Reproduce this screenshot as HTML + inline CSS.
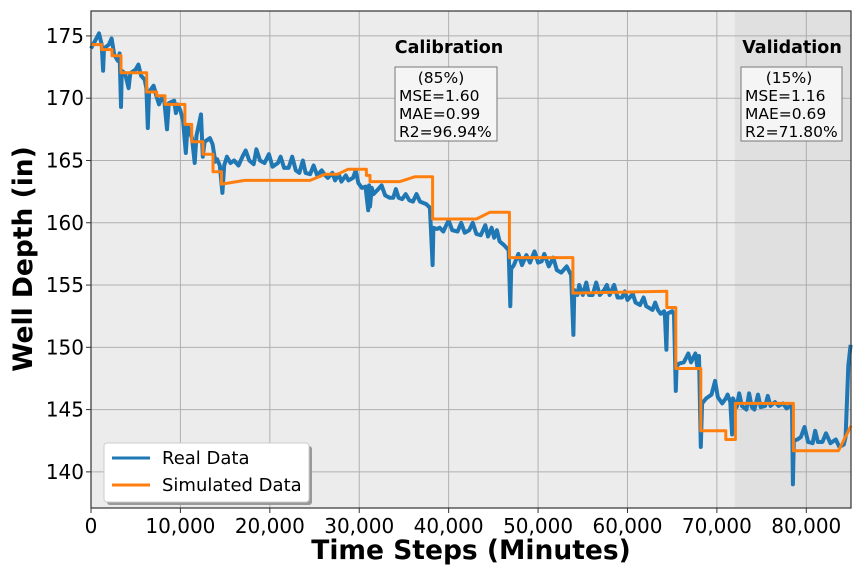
<!DOCTYPE html>
<html><head><meta charset="utf-8"><style>
body{margin:0;background:#fff}
svg{font-family:"DejaVu Sans","Liberation Sans",sans-serif}
</style></head><body>
<svg id="chart" width="864" height="576" viewBox="0 0 864 576" xmlns="http://www.w3.org/2000/svg">
<rect x="91" y="11" width="760" height="497" fill="#ececec"/>
<g id="grid"></g>
<g id="shade"></g>
<g id="series"></g>
<rect x="91" y="11" width="760" height="497" fill="none" stroke="#333" stroke-width="1.2"/>
<g id="ticks"></g>
<text x="471" y="559" text-anchor="middle" font-size="26.5" font-weight="bold">Time Steps (Minutes)</text>
<text transform="translate(32,259) rotate(-90)" text-anchor="middle" font-size="26.5" font-weight="bold">Well Depth (in)</text>
<text x="449" y="53" text-anchor="middle" font-size="17.5" font-weight="bold">Calibration</text>
<g>
<rect x="395" y="67" width="102" height="74" fill="#f5f5f5" stroke="#777" stroke-width="1"/>
<text x="441" y="83" text-anchor="middle" font-size="15.5">(85%)</text>
<text x="399" y="101" font-size="15.5">MSE=1.60</text>
<text x="399" y="119" font-size="15.5">MAE=0.99</text>
<text x="399" y="137" font-size="15.5">R2=96.94%</text>
</g>
<text x="792" y="53" text-anchor="middle" font-size="17.5" font-weight="bold">Validation</text>
<g>
<rect x="741" y="67" width="101" height="74" fill="#f5f5f5" stroke="#777" stroke-width="1"/>
<text x="789" y="83" text-anchor="middle" font-size="15.5">(15%)</text>
<text x="745" y="101" font-size="15.5">MSE=1.16</text>
<text x="745" y="119" font-size="15.5">MAE=0.69</text>
<text x="745" y="137" font-size="15.5">R2=71.80%</text>
</g>
<g>
<rect x="107" y="446" width="205" height="59" rx="3" fill="#999"/>
<rect x="104" y="443" width="205" height="59" rx="3" fill="#fff" stroke="#ccc"/>
<line x1="112" y1="458" x2="150" y2="458" stroke="#1f77b4" stroke-width="3"/>
<text x="162" y="464" font-size="18">Real Data</text>
<line x1="112" y1="485" x2="150" y2="485" stroke="#ff7f0e" stroke-width="3"/>
<text x="162" y="491" font-size="18">Simulated Data</text>
</g>
</svg>
<script>
const xTicks=[0,10000,20000,30000,40000,50000,60000,70000,80000];
const xTickLabels=["0","10,000","20,000","30,000","40,000","50,000","60,000","70,000","80,000"];
const yTicks=[140,145,150,155,160,165,170,175];
const validationStart=72000;
const realT=[0,600,900,1200,1350,1450,2000,2300,2600,3000,3200,3350,3450,3800,4200,4400,5000,5300,5600,6000,6200,6350,6500,7000,7300,7600,7900,8200,8500,8700,9300,9500,9700,10000,10300,10600,10800,11300,11600,11800,12100,12300,12500,12700,13300,13600,13900,14100,14400,14700,14900,15200,15600,16000,16500,17000,17300,17700,18200,18500,18900,19400,19900,20300,20900,21200,21600,22100,22500,22900,23300,23700,24000,24500,24900,25300,25800,26200,26500,27000,27300,27700,28000,28500,28800,29300,29600,29900,30300,30700,31000,31100,31200,31400,31600,32000,32500,32900,33400,33800,34100,34400,34800,35200,35600,36000,36400,36800,37500,37900,38200,38300,38700,39000,39400,40000,40400,41000,41400,41800,42300,42700,43100,43600,44100,44400,44800,45100,45400,45700,46200,46700,46900,47000,47300,47800,48200,48700,49100,49600,50000,50400,50700,51200,51700,52100,52600,53200,53700,53950,54050,54400,54600,55000,55400,55700,56100,56500,56900,57400,57700,58000,58500,58900,59400,59700,60000,60600,60900,61400,61800,62100,62800,63100,63400,63700,64100,64200,64350,64450,65000,65200,65400,65500,65800,66300,66800,67100,67600,67800,68000,68200,68350,68800,69400,69800,70100,70600,71000,71200,71500,71700,71800,72200,72500,72800,73300,73600,73900,74200,74600,74900,75400,75700,76000,76500,76900,77400,77800,78200,78400,78500,78600,79000,79400,79800,80200,80700,81000,81300,81800,82200,82700,83300,83700,84200,84400,84700,84950];
const realV=[174.0,174.8,175.2,174.3,172.2,174.0,174.3,174.8,173.5,173.0,173.6,169.3,172.2,172.0,170.8,172.0,172.3,172.7,171.8,171.5,170.8,167.6,170.5,171.0,170.2,169.5,170.0,169.8,167.5,169.6,169.8,168.8,169.5,169.0,168.2,165.6,167.8,166.8,164.8,167.0,168.0,168.7,165.3,166.5,166.8,166.3,164.9,165.1,164.6,162.4,164.6,165.3,164.8,165.0,164.6,165.4,165.8,165.0,164.7,165.9,165.0,164.8,165.5,164.5,164.8,165.3,164.4,164.4,165.3,164.2,164.0,165.0,164.0,163.9,164.6,163.8,164.2,163.8,163.6,164.0,163.4,163.9,163.3,163.8,163.4,163.6,164.2,163.2,162.8,162.9,161.0,163.0,161.3,162.8,162.3,162.6,163.0,162.2,162.0,162.0,162.7,162.0,161.9,162.3,161.8,161.7,162.3,161.7,161.5,161.2,156.6,159.6,159.5,159.6,159.3,160.2,159.4,159.3,160.0,159.2,159.4,160.0,159.1,159.0,159.8,158.9,159.6,158.8,159.4,158.5,158.2,157.8,153.3,156.3,156.6,157.5,156.6,157.4,156.8,157.7,156.8,156.9,157.5,156.5,157.2,156.2,156.0,156.5,155.8,151.0,154.6,154.2,155.0,154.2,155.2,154.2,154.2,155.2,154.2,154.6,155.0,154.2,155.0,154.0,154.0,154.5,153.8,154.3,153.6,153.4,154.0,153.3,153.0,153.6,153.0,152.7,152.9,152.4,149.8,152.7,152.9,152.6,146.5,148.5,148.7,148.8,149.5,148.8,149.5,148.5,149.3,142.0,145.5,145.9,146.2,147.3,146.0,145.5,145.9,146.2,145.6,143.0,145.9,145.2,146.3,145.3,145.0,146.3,145.2,145.0,146.2,145.2,145.3,146.1,145.3,145.6,145.3,145.5,145.1,145.3,145.2,139.0,142.5,142.6,142.8,143.6,142.4,142.3,143.3,142.4,142.4,143.1,142.3,142.6,142.0,142.2,142.8,148.5,150.2];
const simT=[0,1200,1200,2350,2350,3350,3350,6230,6230,7350,7350,8280,8280,10500,10500,11260,11260,12530,12530,13650,13650,14600,14600,17200,24500,26200,27600,28750,30800,30800,31200,31200,34550,36250,38200,38200,43100,44630,46800,46800,53900,53900,64400,64400,65400,65400,68200,68200,71000,71000,72070,72070,78560,78560,83600,85000];
const simV=[174.3,174.3,173.9,173.9,173.4,173.4,172.05,172.05,170.5,170.5,170.2,170.2,169.5,169.5,167.9,167.9,166.5,166.5,165.5,165.5,164.1,164.1,163.1,163.4,163.4,163.9,163.9,164.3,164.3,163.8,163.8,163.3,163.3,163.7,163.7,160.3,160.3,160.85,160.85,157.2,157.2,154.35,154.5,153.2,153.2,148.3,148.3,143.3,143.3,142.6,142.6,145.5,145.5,141.7,141.7,143.7];
const NS="http://www.w3.org/2000/svg";
const X0=91,X1=851,Y0=11,Y1=508;
const tMin=0,tMax=85000,vMin=137.1,vMax=177.0;
const sx=t=>X0+(t-tMin)/(tMax-tMin)*(X1-X0);
const sy=v=>Y1-(v-vMin)/(vMax-vMin)*(Y1-Y0);
function mk(tag,attrs,parent){const e=document.createElementNS(NS,tag);for(const k in attrs)e.setAttribute(k,attrs[k]);parent.appendChild(e);return e;}
const grid=document.getElementById('grid'),ticks=document.getElementById('ticks'),series=document.getElementById('series'),shade=document.getElementById('shade');
xTicks.forEach((t,i)=>{
 const gl=mk('line',{x1:sx(t),x2:sx(t),y1:Y0,y2:Y1,stroke:'#b0b0b0','stroke-width':1},grid);
 
 
 const tk=mk('line',{x1:sx(t),x2:sx(t),y1:Y1,y2:Y1+5,stroke:'#333'},ticks);
 
 
 const tl=mk('text',{x:sx(t),y:Y1+25,'text-anchor':'middle','font-size':20},ticks);
 
 
 tl.textContent=xTickLabels[i];
});
yTicks.forEach(v=>{
 const gl=mk('line',{x1:X0,x2:X1,y1:sy(v),y2:sy(v),stroke:'#b0b0b0','stroke-width':1},grid);
 
 
 const tk=mk('line',{x1:X0-5,x2:X0,y1:sy(v),y2:sy(v),stroke:'#333'},ticks);
 
 
 const tl=mk('text',{x:X0-7,y:sy(v)+7,'text-anchor':'end','font-size':20},ticks);
 
 
 tl.textContent=String(v);
});
const sh=mk('rect',{x:sx(validationStart),y:Y0,width:X1-sx(validationStart),height:Y1-Y0,fill:'#a0a0a0','fill-opacity':0.15},shade);


const rp=mk('polyline',{points:realT.map((t,i)=>sx(t).toFixed(1)+','+sy(realV[i]).toFixed(1)).join(' '),fill:'none',stroke:'#1f77b4','stroke-width':4,'stroke-linejoin':'round'},series);


const spl=mk('polyline',{points:simT.map((t,i)=>sx(t).toFixed(1)+','+sy(simV[i]).toFixed(1)).join(' '),fill:'none',stroke:'#ff7f0e','stroke-width':3,'stroke-linejoin':'round'},series);


</script>
</body></html>
